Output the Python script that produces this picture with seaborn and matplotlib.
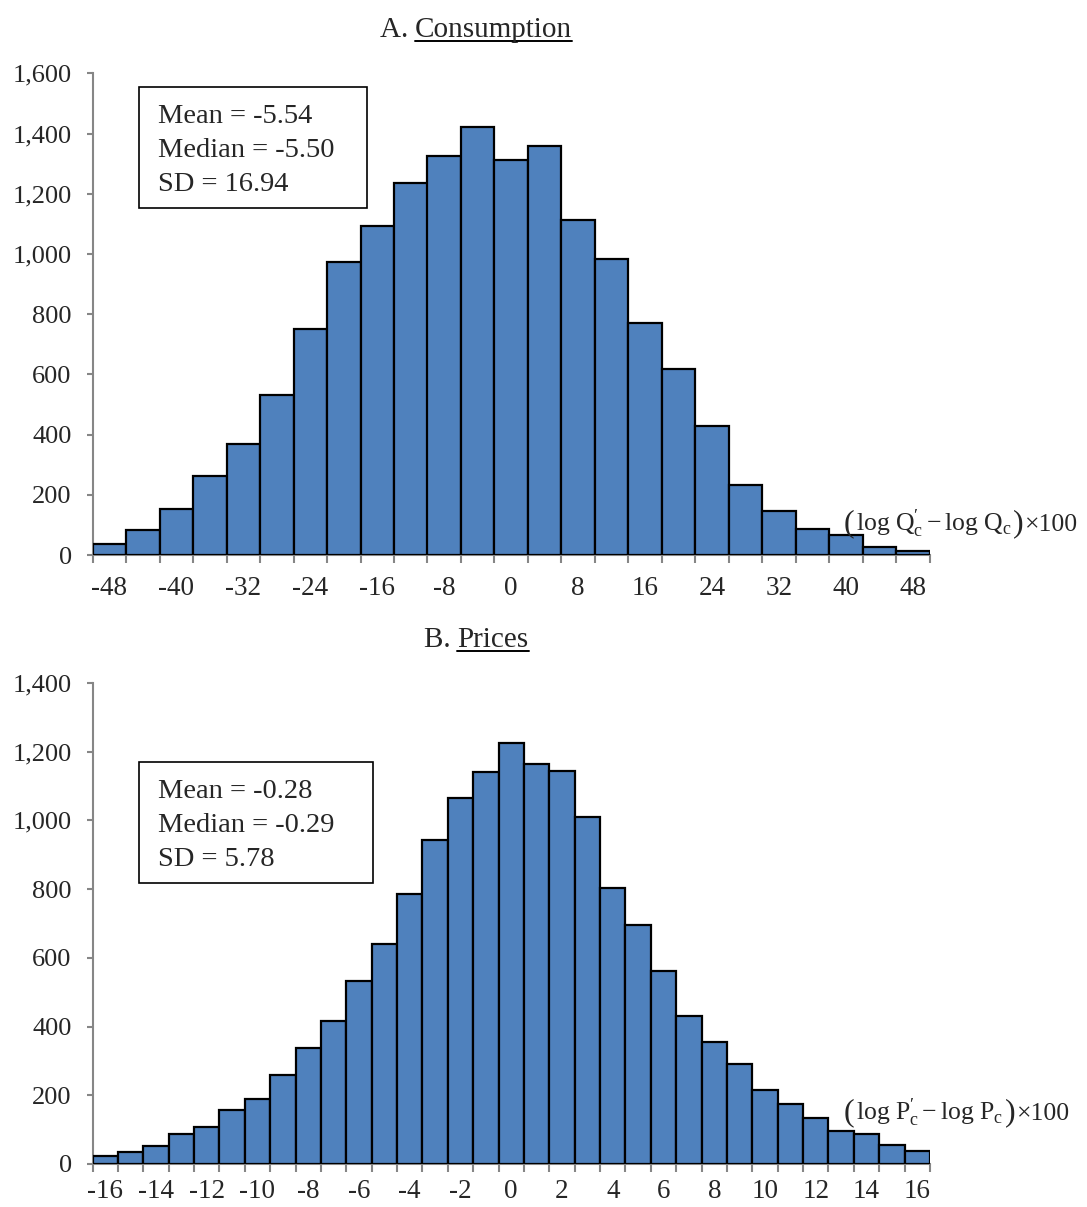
import numpy as np
import pandas as pd
import matplotlib
matplotlib.use("Agg")
import matplotlib.pyplot as plt
import seaborn as sns
from matplotlib.ticker import FuncFormatter, FixedLocator
from matplotlib.patches import Rectangle
from matplotlib.lines import Line2D

# Panel A: consumption changes, bins of width 4 centred on -48..48
cons_centers = [-48, -44, -40, -36, -32, -28, -24, -20, -16, -12, -8, -4, 0,
                4, 8, 12, 16, 20, 24, 28, 32, 36, 40, 44, 48]
cons_counts = [38, 82, 152, 261, 368, 531, 750, 973, 1092, 1236, 1324, 1422, 1312,
               1360, 1112, 983, 771, 617, 427, 231, 146, 87, 68, 25, 14]
cons_ticks = [-48, -40, -32, -24, -16, -8, 0, 8, 16, 24, 32, 40, 48]
cons_stats = ["Mean = -5.54", "Median = -5.50", "SD = 16.94"]

# Panel B: price changes, bins of width 1 centred on -16..16
price_centers = list(range(-16, 17))
price_counts = [23, 36, 53, 88, 108, 158, 188, 260, 338, 416, 534, 641, 785, 943,
                1065, 1141, 1224, 1165, 1144, 1010, 804, 695, 563, 432, 355, 291,
                214, 175, 135, 95, 88, 54, 39]
price_ticks = list(range(-16, 17, 2))
price_stats = ["Mean = -0.28", "Median = -0.29", "SD = 5.78"]

sns.set_theme(style="white")
plt.rcParams["font.family"] = ["Liberation Serif", "DejaVu Serif"]
plt.rcParams["mathtext.fontset"] = "custom"
plt.rcParams["mathtext.rm"] = "Liberation Serif"
plt.rcParams["mathtext.it"] = "Liberation Serif:italic"
plt.rcParams["mathtext.default"] = "rm"

BAR = "#4F81BD"
GREY = "#868686"
FS_Y = 19
FS_X = 19.5
FS_BOX = 20.5
FS_TITLE = 21
FS_LAB = 18.5
FS_PAREN = 23

W, H = 1087, 1207
fig = plt.figure(figsize=(W / 100, H / 100), dpi=100)


def px(x0, y0, x1, y1):
    return [x0 / W, 1 - y1 / H, (x1 - x0) / W, (y1 - y0) / H]


axA = fig.add_axes(px(92.5, 73.3, 930, 555))
axB = fig.add_axes(px(92.5, 683, 930, 1164))


def panel(ax, centers, counts, width, ticks, ymax, stats, box, xpad):
    df = pd.DataFrame({"x": centers, "n": counts})
    lo = centers[0] - width / 2
    hi = centers[-1] + width / 2
    sns.histplot(data=df, x="x", weights="n", binwidth=width, binrange=(lo, hi),
                 color=BAR, alpha=1.0, edgecolor="black", linewidth=1.6, ax=ax)
    ax.set_xlim(lo, hi)
    ax.set_ylim(0, ymax)
    ax.set_xlabel("")
    ax.set_ylabel("")
    for s in ["top", "right"]:
        ax.spines[s].set_visible(False)
    for s in ["left", "bottom"]:
        ax.spines[s].set_color(GREY)
        ax.spines[s].set_linewidth(1.5)
        ax.spines[s].set_zorder(0.5)
    ax.set_yticks(np.arange(0, ymax + 1, 200))
    ax.yaxis.set_major_formatter(FuncFormatter(lambda v, p: f"{int(v):,}"))
    ax.tick_params(axis="y", which="major", length=4, width=1.5, color=GREY,
                   labelsize=FS_Y, pad=11, left=True, direction="out")
    ax.set_xticks(ticks)
    ax.xaxis.set_minor_locator(FixedLocator(np.arange(lo, hi + width / 2, width)))
    ax.tick_params(axis="x", which="major", length=0, labelsize=FS_X, pad=xpad)
    ax.tick_params(axis="x", which="minor", length=6, width=1.5, color=GREY,
                   bottom=True, direction="out")
    ax.set_xticklabels([str(t) for t in ticks])

    # statistics box
    x0, y0, x1, y1 = box
    fig.add_artist(Rectangle((x0 / W, 1 - y1 / H), (x1 - x0) / W, (y1 - y0) / H,
                             transform=fig.transFigure, facecolor="white",
                             edgecolor="black", linewidth=1.2, zorder=5))
    for i, s in enumerate(stats):
        fig.text((x0 + 19.5) / W, 1 - (y0 + 36 + 33.8 * i) / H, s,
                 fontsize=FS_BOX, va="baseline", ha="left", zorder=6)


panel(axA, cons_centers, cons_counts, 4, cons_ticks, 1600, cons_stats,
      (139, 87.3, 366.7, 208.3), 15)
panel(axB, price_centers, price_counts, 1, price_ticks, 1400, price_stats,
      (139, 762, 373, 883), 10.5)

fig.canvas.draw()
r = fig.canvas.get_renderer()


def place_row(parts, x_start, baseline):
    """Lay out text pieces left to right on a common baseline (pixel coords)."""
    arts = []
    x = x_start
    for txt, size, gap in parts:
        x += gap
        t = fig.text(x / W, 1 - baseline / H, txt, fontsize=size,
                     va="baseline", ha="left")
        fig.canvas.draw()
        x += t.get_window_extent(r).width
        arts.append(t)
    return arts, x


def title(pre, main, cx, baseline):
    arts, x_end = place_row([(pre, FS_TITLE, 0), (main, FS_TITLE, 0)], 0, baseline)
    shift = cx - x_end / 2
    for a in arts:
        a.set_x(a.get_position()[0] + shift / W)
    fig.canvas.draw()
    b = arts[1].get_window_extent(r)
    y_ul = 1 - (baseline + 4) / H
    fig.add_artist(Line2D([b.x0 / W, b.x1 / W], [y_ul, y_ul],
                          transform=fig.transFigure, color="black", linewidth=1.4))


def var_label(letter, x_start, baseline):
    mid = (r"$\log\,\mathrm{%s}_{\mathrm{c}}^{\prime}-\log\,\mathrm{%s}_{\mathrm{c}}$"
           % (letter, letter))
    place_row([("(", FS_PAREN, 0), (mid, FS_LAB, 1), (")", FS_PAREN, 2),
               ("×100", FS_LAB, 1)], x_start, baseline)


title("A. ", "Consumption", 476, 36.7)
title("B. ", "Prices", 476, 647)
var_label("Q", 844, 531)
var_label("P", 844, 1120)

fig.savefig("out.png", dpi=100, facecolor="white")
